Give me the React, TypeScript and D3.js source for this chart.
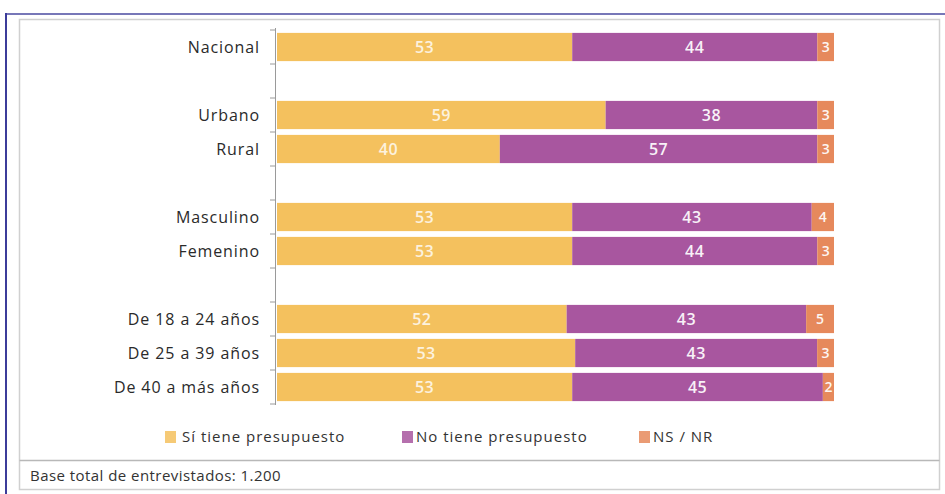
import React from "react";
import * as d3 from "d3";

const categories = ["Nacional", "", "Urbano", "Rural", " ", "Masculino", "Femenino", "  ", "De 18 a 24 años", "De 25 a 39 años", "De 40 a más años"];
const siTiene = [53, null, 59, 40, null, 53, 53, null, 52, 53, 53];
const noTiene = [44, null, 38, 57, null, 43, 44, null, 43, 43, 45];
const nsNr = [3, null, 3, 3, null, 4, 3, null, 5, 3, 2];
const seriesNames = ["Sí tiene presupuesto", "No tiene presupuesto", "NS / NR"];
const colors = ["#F4C15E", "#A8569F", "#E6895C"];
const footer = "Base total de entrevistados: 1.200";

const W = 945, H = 494;
const FONT = "'Open Sans', 'DejaVu Sans', sans-serif";

export default function App() {
  const y = d3.scaleBand<string>().domain(categories).range([30, 404]).paddingInner(0.17).paddingOuter(0.085);
  const x = d3.scaleLinear().domain([0, 1]).range([277, 834]);
  const rows = categories.map((c, i) => ({ c, vals: [siTiene[i], noTiene[i], nsNr[i]] }));
  const step = y.step();
  const ticks = d3.range(categories.length + 1).map(i => 30 + i * step);

  return (
    <svg width={W} height={H} style={{ position: "absolute", left: 0, top: 0, background: "#fff" }} fontFamily={FONT}>
      <rect x={0} y={0} width={W} height={H} fill="#fff" />
      <line x1={6} x2={W} y1={14} y2={14} stroke="#4a4aa0" strokeWidth={1.5} />
      <line x1={6} x2={6} y1={13} y2={H} stroke="#3c3c9a" strokeWidth={2} />
      <rect x={19.5} y={19.5} width={920} height={470} fill="none" stroke="#d0d0d0" strokeWidth={1.5} />
      <line x1={19.5} x2={939.5} y1={460.5} y2={460.5} stroke="#b8b8b8" strokeWidth={1.5} />

      {rows.map(r => {
        if (r.vals[0] == null) return null;
        const vals = r.vals as number[];
        const total = d3.sum(vals);
        let acc = 0;
        const y0 = y(r.c)!;
        return (
          <g key={r.c}>
            {vals.map((v, k) => {
              const a = acc / total;
              acc += v;
              const b = acc / total;
              const x0 = x(a), x1 = x(b);
              return (
                <g key={k}>
                  <rect x={x0} y={y0} width={x1 - x0} height={y.bandwidth()} fill={colors[k]} />
                  <text x={(x0 + x1) / 2} y={y0 + y.bandwidth() / 2} dy="0.36em" textAnchor="middle" fill="#fff" fontSize={k === 2 ? 14 : 16} fontWeight={600} letterSpacing={k === 2 ? 0 : 0.5} opacity={k === 0 ? 0.8 : 0.92}>{v}</text>
                </g>
              );
            })}
          </g>
        );
      })}

      <line x1={275.5} x2={275.5} y1={28} y2={405} stroke="#9a9a9a" strokeWidth={1} />
      {ticks.map((t, i) => (
        <line key={i} x1={270} x2={275.5} y1={t} y2={t} stroke="#9a9a9a" strokeWidth={1} />
      ))}
      {categories.map(c => c.trim() ? (
        <text key={c} x={260} y={y(c)! + y.bandwidth() / 2} dy="0.36em" textAnchor="end" fontSize={16} letterSpacing={0.9} fill="#2a2a2a">{c}</text>
      ) : null)}

      {[{ sx: 165, tx: 182 }, { sx: 402, tx: 416 }, { sx: 639, tx: 653 }].map((l, k) => (
        <g key={k}>
          <rect x={l.sx} y={431} width={11} height={12} fill={colors[k]} opacity={0.85} />
          <text x={l.tx} y={437} dy="0.36em" fontSize={15} letterSpacing={1} fill="#333">{seriesNames[k]}</text>
        </g>
      ))}

      <text x={30} y={476} dy="0.36em" fontSize={15} letterSpacing={0.45} fill="#333">{footer}</text>
    </svg>
  );
}
